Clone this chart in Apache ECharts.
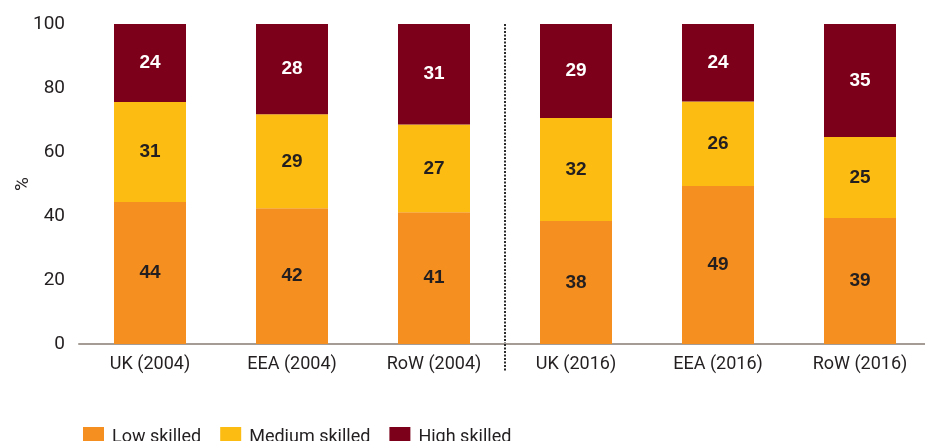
<!DOCTYPE html>
<html>
<head>
<meta charset="utf-8">
<script src="https://cdn.jsdelivr.net/npm/echarts@6/dist/echarts.min.js"></script>
<style>
  html, body { margin: 0; padding: 0; background: #fff; }
  #chart { width: 925px; height: 441px; }
</style>
</head>
<body>
<div id="chart"></div>
<script>
const categories = ['UK (2004)', 'EEA (2004)', 'RoW (2004)', 'UK (2016)', 'EEA (2016)', 'RoW (2016)']
const lowSkilled = [44.4, 42.4, 41.2, 38.4, 49.4, 39.4]
const mediumSkilled = [31.2, 29.4, 27.4, 32.2, 26.4, 25.3]
const highSkilled = [24.4, 28.2, 31.4, 29.4, 24.2, 35.3]
const yTicks = [0, 20, 40, 60, 80, 100]

// boundaries between categories (0..6), the dotted divider sits on boundary 3
const boundaries = ['', '', '', '', '', '', '']
const dividerIndex = 3

const narrow = 'Roboto, "Liberation Sans", sans-serif'

const chart = echarts.init(document.getElementById('chart'))

const barLabel = (color) => ({
    show: true,
    position: 'inside',
    color: color,
    fontFamily: '"Liberation Sans", Arial, sans-serif',
    fontWeight: 'bold',
    fontSize: 19,
    formatter: p => Math.round(p.value)
})

const dotted = { color: '#2a2a2a', width: 2, type: [2, 1.5] }

chart.setOption({
    animation: false,
    color: ['#F58F1F', '#FCBC12', '#7C001A'],
    grid: {
        left: 79,
        top: 24,
        width: 852,
        bottom: 97,
        outerBoundsMode: 'none'
    },
    legend: {
        left: 78,
        top: 422,
        icon: 'rect',
        itemWidth: 21,
        itemHeight: 21,
        itemGap: 19,
        textStyle: {
            fontFamily: narrow,
            fontSize: 18,
            color: '#231f20',
            padding: [0, 0, 0, 3]
        },
        data: ['Low skilled', 'Medium skilled', 'High skilled']
    },
    xAxis: [
        {
            type: 'category',
            data: categories,
            axisLine: { lineStyle: { color: '#a59d95', width: 2 } },
            axisTick: { show: false },
            splitLine: { show: false },
            axisLabel: {
                margin: 11,
                fontFamily: narrow,
                fontSize: 18,
                color: '#231f20'
            }
        },
        {
            type: 'category',
            data: boundaries,
            position: 'bottom',
            boundaryGap: false,
            axisLine: { show: false },
            axisLabel: { show: false },
            axisTick: {
                show: true,
                interval: (i) => i === dividerIndex,
                length: 28,
                lineStyle: dotted
            },
            splitLine: {
                show: true,
                interval: (i) => i === dividerIndex,
                lineStyle: dotted
            }
        }
    ],
    yAxis: {
        type: 'value',
        min: yTicks[0],
        max: yTicks[yTicks.length - 1],
        interval: yTicks[1] - yTicks[0],
        name: '%',
        nameLocation: 'middle',
        nameGap: 54,
        nameMoveOverlap: false,
        nameTextStyle: {
            fontFamily: narrow,
            fontSize: 19,
            color: '#231f20',
            padding: [0, 0, -8, 0]
        },
        axisLine: { show: false },
        axisTick: { show: false },
        splitLine: { show: false },
        axisLabel: {
            margin: 14,
            fontFamily: narrow,
            fontSize: 19,
            color: '#231f20'
        }
    },
    series: [
        {
            name: 'Low skilled',
            type: 'bar',
            stack: 'total',
            barWidth: 72,
            data: lowSkilled,
            label: barLabel('#231f20')
        },
        {
            name: 'Medium skilled',
            type: 'bar',
            stack: 'total',
            barWidth: 72,
            data: mediumSkilled,
            label: barLabel('#231f20')
        },
        {
            name: 'High skilled',
            type: 'bar',
            stack: 'total',
            barWidth: 72,
            data: highSkilled,
            label: barLabel('#ffffff')
        }
    ]
})
</script>
</body>
</html>
